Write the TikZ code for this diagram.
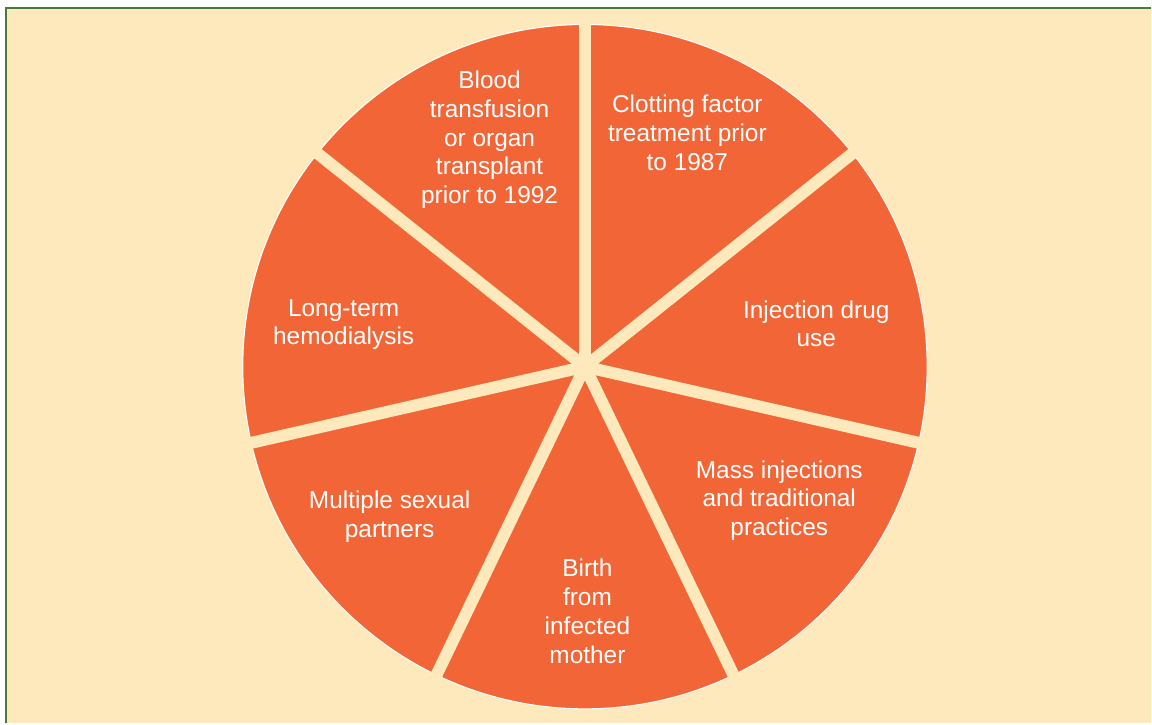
\documentclass[tikz,border=0pt]{standalone}
\usepackage{fontspec}
\setmainfont{Liberation Sans}
\usetikzlibrary{calc}

\definecolor{cream}{HTML}{FEE9BC}
\definecolor{pieorange}{HTML}{F26536}
\definecolor{framegreen}{HTML}{4A7A3A}

\begin{document}
\begin{tikzpicture}[x=0.02cm,y=0.02cm,
  label node/.style={text=white,align=center,font=\fontsize{13.9}{16.4}\selectfont}]

  % page and frame
  \fill[white] (0,0) rectangle (1152,724);
  \fill[cream] (6,0) rectangle (1152,716);
  \draw[framegreen,line width=1.2pt] (6,0) -- (6,716) -- (1152,716);

  \node[] (c) at (585.5,357) {};

  \pgfmathsetmacro\R{342.5}
  \pgfmathsetmacro\slice{360/7}

  \fill[pieorange,draw=white,line width=0.6pt] (c.center) circle (\R);

  \foreach \k in {0,...,6}
  {\draw[cream,line width=6.8pt]
    (c.center) -- ($(c.center)+({90-\k*\slice}:\R+8)$);}

  \node[label node] (blood) at (490,584) {Blood\\transfusion\\or organ\\transplant\\prior to 1992};
  \node[label node] (clot) at (688,591) {Clotting factor\\treatment prior\\to 1987};
  \node[label node] (drug) at (817,400) {Injection drug\\use};
  \node[label node] (mass) at (780,223) {Mass injections\\and traditional\\practices};
  \node[label node] (birth) at (588,112) {Birth\\from\\infected\\mother};
  \node[label node] (sex) at (390,207) {Multiple sexual\\partners};
  \node[label node] (dial) at (344,399) {Long-term\\hemodialysis};

\end{tikzpicture}
\end{document}
